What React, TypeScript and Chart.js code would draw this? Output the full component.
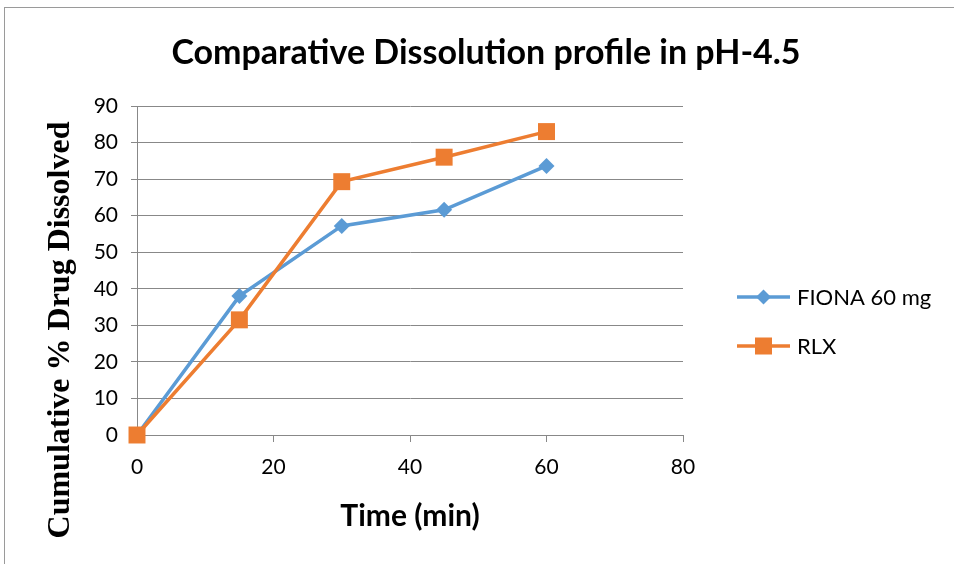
import React, { useEffect, useRef } from "react";
import { Chart, registerables } from "chart.js";

Chart.register(...registerables);

const times = [0, 15, 30, 45, 60];
const fionaValues = [0, 38, 57.2, 61.6, 73.6];
const rlxValues = [0, 31.5, 69.3, 76, 83];
const seriesNames = ["FIONA 60 mg", "RLX"];
const titleText = "Comparative Dissolution profile in pH-4.5";
const xTitle = "Time (min)";
const yTitle = "Cumulative % Drug Dissolved";

const BLUE = "#5B9BD5";
const ORANGE = "#ED7D31";
const GRID = "#888888";
const SANS = "Lato, 'Open Sans', sans-serif";
const SERIF = "'Liberation Serif', 'Times New Roman', serif";

const textPlugin = {
  id: "customText",
  afterDraw(chart: any) {
    const ctx = chart.ctx;
    const area = chart.chartArea;
    ctx.save();
    ctx.fillStyle = "#000";
    ctx.textAlign = "center";
    ctx.textBaseline = "middle";
    // main title
    ctx.font = `bold 34px ${SANS}`;
    ctx.fillText(titleText, 486, 53);
    // x title
    ctx.font = `bold 30px ${SANS}`;
    ctx.fillText(xTitle, (area.left + area.right) / 2, 516);
    // y title
    ctx.save();
    ctx.translate(61, 330);
    ctx.rotate(-Math.PI / 2);
    ctx.font = `bold 32px ${SERIF}`;
    ctx.fillText(yTitle, 0, 0);
    ctx.restore();

    // legend
    const x0 = area.right + 54;
    const items = [
      { name: seriesNames[0], color: BLUE, style: "diamond", y: area.top + 191 },
      { name: seriesNames[1], color: ORANGE, style: "square", y: area.top + 240 },
    ];
    items.forEach((it) => {
      ctx.strokeStyle = it.color;
      ctx.lineWidth = 3.5;
      ctx.beginPath();
      ctx.moveTo(x0, it.y);
      ctx.lineTo(x0 + 53, it.y);
      ctx.stroke();
      ctx.fillStyle = it.color;
      const cx = x0 + 26.5;
      if (it.style === "diamond") {
        ctx.beginPath();
        ctx.moveTo(cx, it.y - 7.5);
        ctx.lineTo(cx + 7.5, it.y);
        ctx.lineTo(cx, it.y + 7.5);
        ctx.lineTo(cx - 7.5, it.y);
        ctx.closePath();
        ctx.fill();
      } else {
        ctx.fillRect(cx - 8.5, it.y - 8.5, 17, 17);
      }
      ctx.fillStyle = "#000";
      ctx.font = `22px ${SANS}`;
      ctx.textBaseline = "middle";
      ctx.textAlign = "left";
      ctx.fillText(it.name, x0 + 60, it.y + 1);
    });
    ctx.restore();
  },
};

export default function App() {
  const ref = useRef<HTMLCanvasElement>(null);
  useEffect(() => {
    if (!ref.current) return;
    const chart = new Chart(ref.current, {
      type: "line",
      data: {
        datasets: [
          {
            label: seriesNames[0],
            data: times.map((t, i) => ({ x: t, y: fionaValues[i] })),
            borderColor: BLUE,
            backgroundColor: BLUE,
            borderWidth: 3.5,
            pointStyle: "rectRot",
            pointRadius: 8,
            pointHoverRadius: 8,
            pointBorderWidth: 0,
            pointBorderColor: BLUE,
            tension: 0,
            clip: false,
            order: 1,
          },
          {
            label: seriesNames[1],
            data: times.map((t, i) => ({ x: t, y: rlxValues[i] })),
            borderColor: ORANGE,
            backgroundColor: ORANGE,
            borderWidth: 3.5,
            pointStyle: "rect",
            pointRadius: 12,
            pointHoverRadius: 12,
            pointBorderWidth: 0,
            pointBorderColor: ORANGE,
            tension: 0,
            clip: false,
            order: 0,
          },
        ],
      },
      options: {
        animation: false,
        responsive: false,
        maintainAspectRatio: false,
        layout: { padding: { top: 106, left: 0, right: 271, bottom: 0 } },
        plugins: {
          legend: { display: false },
          tooltip: { enabled: false },
          title: { display: false },
        },
        scales: {
          x: {
            type: "linear",
            min: 0,
            max: 80,
            afterFit: (s: any) => {
              s.height = 129;
            },
            ticks: { stepSize: 20, color: "#000", font: { family: SANS, size: 21 }, padding: 13 },
            grid: { drawOnChartArea: false, color: GRID, tickLength: 7, lineWidth: 1 },
            border: { color: GRID, width: 1 },
          },
          y: {
            min: 0,
            max: 90,
            afterFit: (s: any) => {
              s.width = 137;
            },
            ticks: { stepSize: 10, color: "#000", font: { family: SANS, size: 21 }, padding: 13 },
            grid: { color: GRID, tickLength: 6, lineWidth: 1 },
            border: { color: GRID, width: 1 },
          },
        },
      },
      plugins: [textPlugin],
    });
    return () => chart.destroy();
  }, []);
  return (
    <div style={{ position: "fixed", left: 0, top: 0, width: 954, height: 564, background: "#fff" }}>
      <div
        style={{
          position: "absolute",
          left: 4,
          top: 7,
          width: 960,
          height: 570,
          borderTop: "1px solid #9a9a9a",
          borderLeft: "1px solid #9a9a9a",
        }}
      />
      <canvas ref={ref} width={954} height={564} style={{ position: "absolute", left: 0, top: 0 }} />
    </div>
  );
}
